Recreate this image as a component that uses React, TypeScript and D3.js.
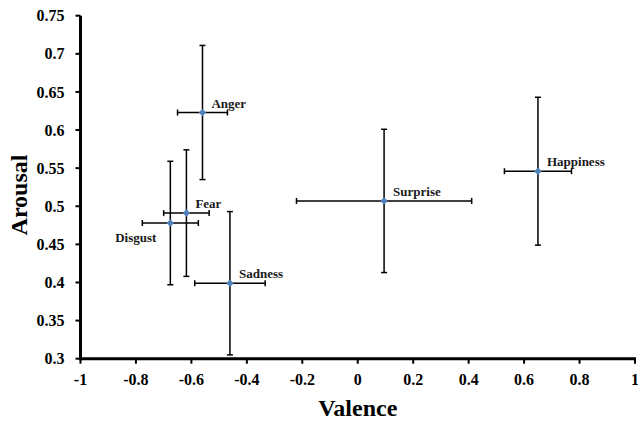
import React from "react";
import * as d3 from "d3";

const emotions = ["Anger", "Fear", "Disgust", "Sadness", "Surprise", "Happiness"];
const valence = [-0.56, -0.618, -0.676, -0.461, 0.095, 0.65];
const arousal = [0.623, 0.491, 0.478, 0.399, 0.507, 0.546];
const valenceErr = [0.09, 0.082, 0.101, 0.127, 0.316, 0.121];
const arousalErr = [0.088, 0.083, 0.081, 0.094, 0.094, 0.097];
const xTicks = [-1, -0.8, -0.6, -0.4, -0.2, 0, 0.2, 0.4, 0.6, 0.8, 1];
const yTicks = [0.3, 0.35, 0.4, 0.45, 0.5, 0.55, 0.6, 0.65, 0.7, 0.75];

const W = 638;
const H = 423;
const FONT = "'Liberation Serif', 'Times New Roman', serif";

export default function App() {
  const x = d3.scaleLinear().domain([-1, 1]).range([80.5, 635]);
  const y = d3.scaleLinear().domain([0.3, 0.75]).range([358.7, 15.7]);
  const cap = 3;
  const diamond = d3.symbol().type(d3.symbolDiamond2).size(36)();

  return (
    <svg
      width={W}
      height={H}
      style={{ position: "absolute", left: 0, top: 0, background: "#fff" }}
      fontFamily={FONT}
    >
      {/* error bars */}
      {emotions.map((e, i) => {
        const cx = x(valence[i]);
        const cy = y(arousal[i]);
        const x0 = x(valence[i] - valenceErr[i]);
        const x1 = x(valence[i] + valenceErr[i]);
        const y0 = y(arousal[i] + arousalErr[i]);
        const y1 = y(arousal[i] - arousalErr[i]);
        return (
          <g key={e} stroke="#000" strokeWidth={1.5}>
            <line x1={cx} x2={cx} y1={y0} y2={y1} />
            <line x1={cx - cap} x2={cx + cap} y1={y0} y2={y0} />
            <line x1={cx - cap} x2={cx + cap} y1={y1} y2={y1} />
            <line x1={x0} x2={x1} y1={cy} y2={cy} />
            <line x1={x0} x2={x0} y1={cy - cap} y2={cy + cap} />
            <line x1={x1} x2={x1} y1={cy - cap} y2={cy + cap} />
          </g>
        );
      })}
      {/* points */}
      {emotions.map((e, i) => (
        <path
          key={e}
          d={diamond || ""}
          transform={`translate(${x(valence[i])},${y(arousal[i])})`}
          fill="#4F81BD"
        />
      ))}
      {/* labels */}
      {emotions.map((e, i) => {
        const left = e === "Disgust";
        return (
          <text
            key={e}
            x={x(valence[i]) + (left ? -14 : 9)}
            y={y(arousal[i]) + (left ? 19 : -5)}
            textAnchor={left ? "end" : "start"}
            fontWeight="bold"
            fontSize={13}
            fill="#1a1a1a"
          >
            {e}
          </text>
        );
      })}
      {/* axes */}
      <g stroke="#000">
        <line x1={x(-1)} x2={x(-1)} y1={y(0.75)} y2={y(0.3) + 1.5} strokeWidth={3} />
        <line x1={x(-1) - 1.5} x2={x(1) + 1} y1={y(0.3)} y2={y(0.3)} strokeWidth={3} />
        {yTicks.map((t) => (
          <line key={t} x1={x(-1) - 5} x2={x(-1)} y1={y(t)} y2={y(t)} strokeWidth={2} />
        ))}
        {xTicks.map((t) => (
          <line key={t} x1={x(t)} x2={x(t)} y1={y(0.3)} y2={y(0.3) + 5} strokeWidth={2} />
        ))}
      </g>
      {yTicks.map((t) => (
        <text
          key={t}
          x={x(-1) - 16}
          y={y(t)}
          dy="0.35em"
          textAnchor="end"
          fontWeight="bold"
          fontSize={16}
        >
          {String(+t.toFixed(2))}
        </text>
      ))}
      {xTicks.map((t) => (
        <text
          key={t}
          x={x(t)}
          y={y(0.3) + 26}
          textAnchor="middle"
          fontWeight="bold"
          fontSize={16}
        >
          {String(+t.toFixed(2))}
        </text>
      ))}
      <text
        x={(x(-1) + x(1)) / 2}
        y={416}
        textAnchor="middle"
        fontWeight="bold"
        fontSize={24}
      >
        Valence
      </text>
      <text
        transform={`translate(27,195) rotate(-90)`}
        textAnchor="middle"
        fontWeight="bold"
        fontSize={24}
      >
        Arousal
      </text>
    </svg>
  );
}
